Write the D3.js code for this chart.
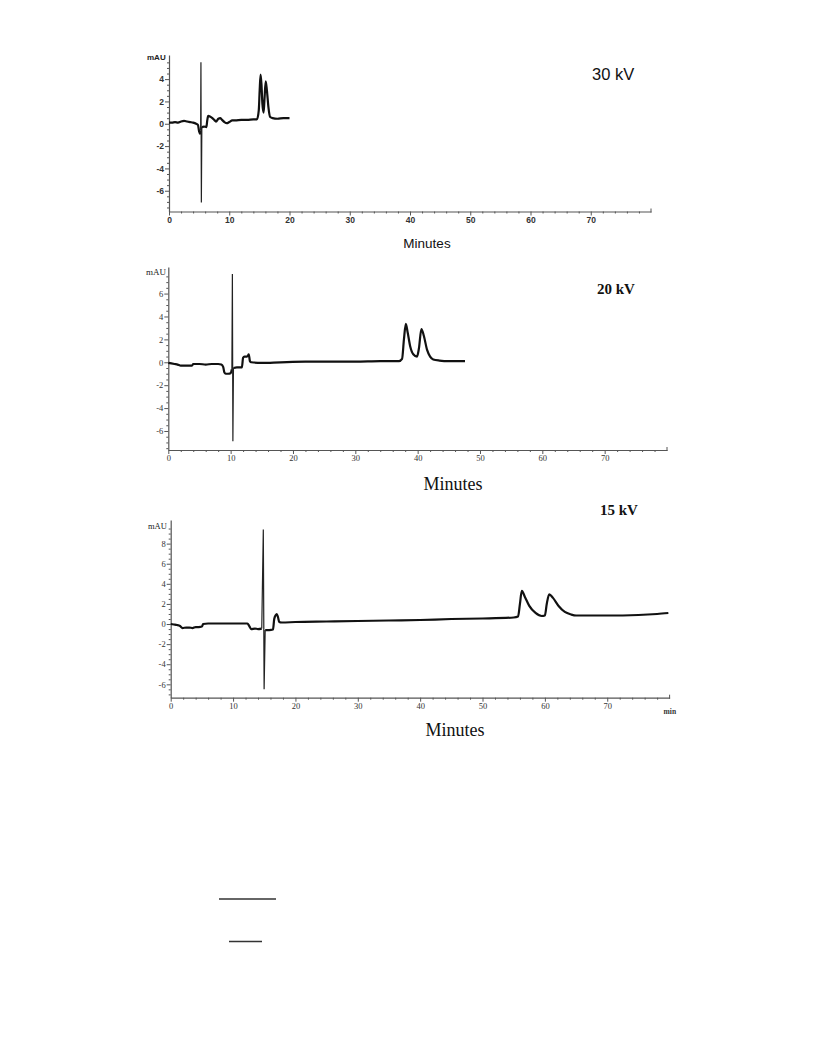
<!DOCTYPE html>
<html><head><meta charset="utf-8">
<script src="https://cdn.jsdelivr.net/npm/d3@7"></script>
<style>body{margin:0;background:#fff}svg{display:block}</style>
</head><body>
<svg id="c" width="816" height="1056"></svg>
<script>
// ---------- DATA ----------
const xTicks = [0, 10, 20, 30, 40, 50, 60, 70];
const yTicks30 = [-6, -4, -2, 0, 2, 4];
const yTicks20 = [-6, -4, -2, 0, 2, 4, 6];
const yTicks15 = [-6, -4, -2, 0, 2, 4, 6, 8];
const panelTitles = ["30 kV", "20 kV", "15 kV"];

// 30 kV trace (minutes, mAU)
const t30 = [0,0.5,1,1.5,2,2.5,3,3.5,4,4.5,4.8,5.0,5.15,5.25];
const a30 = [0.1,0.1,0.15,0.1,0.2,0.25,0.2,0.15,0.1,0.0,-0.1,-0.7,-0.9,-0.6];
const t30b = [5.45,5.8,6.2,6.35,6.5,6.8,7.2,7.5,7.8,8.2,8.5,8.8,9.2,9.6,10,10.5,11,12,13,14,14.6,14.9,15.05,15.2,15.35,15.5,15.7,15.85,16.05,16.25,16.5,16.8,17.2,18,19,20];
const a30b = [-0.3,-0.25,-0.3,0.3,0.7,0.65,0.5,0.35,0.2,0.45,0.5,0.35,0.15,0.05,0.15,0.3,0.3,0.35,0.35,0.4,0.4,1.2,3.0,4.4,3.5,1.8,1.0,2.2,3.8,3.0,1.5,0.6,0.5,0.45,0.5,0.5];
const spikeT30 = [5.25,5.3,5.37,5.45];
const spikeA30 = [-0.6,5.5,-7.05,-0.3];

// 20 kV trace
const t20 = [0,0.5,1,1.5,2,3,3.8,4,5,6,7,8,8.5,8.8,9.0,9.2,9.6,10.0,10.2];
const a20 = [-0.05,-0.1,-0.15,-0.2,-0.3,-0.3,-0.3,-0.15,-0.15,-0.2,-0.15,-0.15,-0.2,-0.4,-0.9,-1.0,-1.0,-0.95,-0.6];
const t20b = [10.45,11,11.8,12.0,12.2,12.6,12.8,12.9,13.1,13.3,15,18,22,26,30,34,37,37.5,37.8,38.1,38.4,38.8,39.3,39.9,40.2,40.6,41.0,41.5,42.0,42.5,43.5,45,47.6];
const a20b = [-0.5,-0.45,-0.45,0.4,0.5,0.5,0.6,0.7,0.1,0.0,-0.05,0.0,0.05,0.05,0.05,0.1,0.1,0.3,2.0,3.35,2.6,1.4,0.7,0.5,1.2,2.9,2.3,1.1,0.5,0.25,0.15,0.1,0.1];
const spikeT20 = [10.2,10.28,10.36,10.45];
const spikeA20 = [-0.6,7.7,-6.9,-0.5];

// 15 kV trace
const t15 = [0,0.5,1,1.5,1.9,2.5,3,3.5,4,4.5,5.0,5.2,6,8,10,11,12.3,12.6,12.9,13.5,14,14.6];
const a15 = [0.0,-0.05,-0.1,-0.2,-0.4,-0.35,-0.35,-0.4,-0.3,-0.3,-0.25,0.0,0.05,0.05,0.05,0.05,0.05,-0.2,-0.5,-0.45,-0.5,-0.45];
const t15b = [15.15,15.8,16.4,16.6,16.85,17.0,17.2,17.4,17.8,20,25,30,35,40,45,50,55,55.7,56.0,56.3,56.8,57.5,58.5,59.5,60.0,60.3,60.7,61.3,62.2,63.2,64.2,65,70,75,78,79.8];
const a15b = [-0.6,-0.6,-0.55,0.5,0.9,1.0,0.7,0.2,0.15,0.2,0.25,0.3,0.35,0.4,0.5,0.55,0.65,0.75,2.0,3.3,2.7,1.8,1.1,0.8,0.85,2.0,2.95,2.6,1.8,1.2,0.95,0.85,0.85,0.9,1.0,1.1];
const spikeT15 = [14.6,14.85,14.98,15.15];
const spikeA15 = [-0.45,9.4,-6.5,-0.6];

// ---------- DRAW ----------
const svg = d3.select("#c");
const zip = (t, a) => t.map((v, i) => [v, a[i]]);

const panels = [
  { title: panelTitles[0], yTicks: yTicks30, pre: zip(t30, a30), post: zip(t30b, a30b), spike: zip(spikeT30, spikeA30),
    x0: 169, x1: 651, yTop: 55, yBot: 211.5, yDom: [-7.86, 6.16],
    font: "Liberation Sans, Arial, sans-serif", tickFs: 8.5, tickW: "bold", muLabel: {x: 147, y: 60, fs: 8, w: "bold"},
    titleP: {x: 592, y: 80, fs: 16.5, w: "normal"}, minP: {x: 427, y: 248, fs: 13.5}, labY: 220, minLabel: false },
  { title: panelTitles[1], yTicks: yTicks20, pre: zip(t20, a20), post: zip(t20b, a20b), spike: zip(spikeT20, spikeA20),
    x0: 168.3, x1: 667, yTop: 267, yBot: 450, yDom: [-7.66, 8.32],
    font: "Liberation Serif, Times New Roman, serif", tickFs: 8.5, tickW: "normal", muLabel: {x: 146, y: 275, fs: 9, w: "normal"},
    titleP: {x: 597, y: 294, fs: 15, w: "bold"}, minP: {x: 453, y: 490, fs: 18}, labY: 464, minLabel: false },
  { title: panelTitles[2], yTicks: yTicks15, pre: zip(t15, a15), post: zip(t15b, a15b), spike: zip(spikeT15, spikeA15),
    x0: 170.7, x1: 669.6, yTop: 520, yBot: 697.7, yDom: [-7.33, 10.35],
    font: "Liberation Serif, Times New Roman, serif", tickFs: 8.5, tickW: "normal", muLabel: {x: 148, y: 529, fs: 8.5, w: "normal"},
    titleP: {x: 600, y: 515, fs: 15, w: "bold"}, minP: {x: 455, y: 736, fs: 18}, labY: 710, minLabel: true }
];

panels.forEach(p => {
  const x = d3.scaleLinear().domain([0, 80]).range([p.x0, p.x1]);
  const y = d3.scaleLinear().domain(p.yDom).range([p.yBot, p.yTop]);
  const g = svg.append("g").attr("font-family", p.font);

  // x axis minor ticks
  const xMinor = d3.range(0, 81, 2).filter(v => v % 10 !== 0);
  const xa = g.append("g").attr("transform", `translate(0,${p.yBot})`)
    .call(d3.axisBottom(x).tickValues(xMinor).tickSize(2).tickFormat("").tickSizeOuter(0));
  xa.select(".domain").remove();
  xa.selectAll("line").attr("stroke", "#555");
  const xb = g.append("g").attr("transform", `translate(0,${p.yBot})`)
    .call(d3.axisBottom(x).tickValues(xTicks).tickSize(4).tickSizeOuter(0).tickFormat(d3.format("d")));
  xb.select(".domain").attr("stroke", "#555").attr("stroke-width", 1.2);
  xb.selectAll("line").attr("stroke", "#555");
  xb.selectAll("text").attr("font-size", p.tickFs).attr("font-weight", p.tickW).attr("fill", "#333")
    .attr("font-family", p.font).attr("y", 5);
  // end tick
  g.append("line").attr("x1", x(80)).attr("x2", x(80)).attr("y1", p.yBot - 3).attr("y2", p.yBot + 1)
    .attr("stroke", "#555");

  // y axis
  const yMinor = d3.range(Math.ceil(p.yDom[0] * 2) / 2, p.yDom[1], 0.5).filter(v => Math.abs(v % 2) > 1e-6);
  const ya = g.append("g").attr("transform", `translate(${p.x0},0)`)
    .call(d3.axisLeft(y).tickValues(yMinor).tickSize(2).tickFormat("").tickSizeOuter(0));
  ya.select(".domain").remove();
  ya.selectAll("line").attr("stroke", "#555");
  const yb = g.append("g").attr("transform", `translate(${p.x0},0)`)
    .call(d3.axisLeft(y).tickValues(p.yTicks).tickSize(4).tickSizeOuter(0).tickFormat(d3.format("d")));
  yb.select(".domain").attr("stroke", "#555").attr("stroke-width", 1.2);
  yb.selectAll("line").attr("stroke", "#555");
  yb.selectAll("text").attr("font-size", p.tickFs).attr("font-weight", p.tickW).attr("fill", "#333")
    .attr("font-family", p.font).attr("x", -5)
    .text(d => d < 0 ? "-" + Math.abs(d) : d);

  g.append("text").attr("x", p.muLabel.x).attr("y", p.muLabel.y).attr("font-size", p.muLabel.fs)
    .attr("font-weight", p.muLabel.w).attr("fill", "#222").text("mAU");
  if (p.minLabel) {
    g.append("text").attr("x", x(80) - 6).attr("y", p.labY + 4).attr("font-size", 7.5)
      .attr("font-weight", "bold").attr("fill", "#333").text("min");
  }

  const line = d3.line().x(d => x(d[0])).y(d => y(d[1])).curve(d3.curveMonotoneX);
  g.append("path").datum(p.pre).attr("d", line).attr("fill", "none").attr("stroke", "#111")
    .attr("stroke-width", 2.2).attr("stroke-linejoin", "round");
  g.append("path").datum(p.post).attr("d", line).attr("fill", "none").attr("stroke", "#111")
    .attr("stroke-width", 2.2).attr("stroke-linejoin", "round");
  g.append("path").datum(p.spike).attr("d", d3.line().x(d => x(d[0])).y(d => y(d[1])))
    .attr("fill", "none").attr("stroke", "#222").attr("stroke-width", 1.2);

  g.append("text").attr("x", p.titleP.x).attr("y", p.titleP.y).attr("font-size", p.titleP.fs)
    .attr("font-weight", p.titleP.w).attr("fill", "#111").text(p.title);
  g.append("text").attr("x", p.minP.x).attr("y", p.minP.y).attr("text-anchor", "middle")
    .attr("font-size", p.minP.fs).attr("fill", "#111").text("Minutes");
});

// decorative rules at page bottom
svg.append("line").attr("x1", 219).attr("x2", 276).attr("y1", 899).attr("y2", 899).attr("stroke", "#333").attr("stroke-width", 1.5);
svg.append("line").attr("x1", 229).attr("x2", 262).attr("y1", 941.5).attr("y2", 941.5).attr("stroke", "#333").attr("stroke-width", 1.5);
</script>
</body></html>
